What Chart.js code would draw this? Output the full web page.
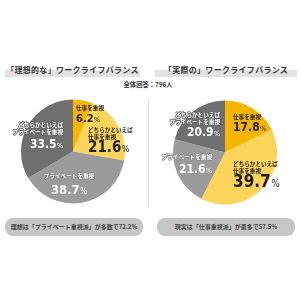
<!DOCTYPE html>
<html>
<head>
<meta charset="utf-8">
<script src="https://cdn.jsdelivr.net/npm/chart.js@4"></script>
<style>
  body { margin: 0; width: 300px; height: 300px; background: #fff; position: relative; overflow: hidden;
         font-family: "Noto Sans CJK JP", sans-serif; }
  .title { position: absolute; top: 63px; height: 14px; font-size: 8px; font-weight: 700; color: #333;
           text-align: center; line-height: 14px; letter-spacing: 0.3px; }
  .band { position: absolute; top: 70px; height: 7px; background: #e2e2e2; }
  .total { position: absolute; top: 80px; left: 0; width: 296px; text-align: center; font-size: 6.3px;
           font-weight: 700; color: #333; line-height: 10px; }
  .pill { position: absolute; top: 218px; height: 18px; width: 138px; background: #c6c6c6; border-radius: 8px;
          font-size: 6px; font-weight: 700; color: #444; text-align: center; line-height: 18px; }
  .sep { position: absolute; left: 148px; top: 100px; width: 1px; height: 107px; background: #dcdcdc; }
  canvas { position: absolute; top: 92px; }
</style>
</head>
<body>
<div class="band" style="left:5px;width:135px"></div>
<div class="band" style="left:155px;width:142px"></div>
<div class="title" style="left:5px;width:135px">「理想的な」ワークライフバランス</div>
<div class="title" style="left:155px;width:142px">「実際の」ワークライフバランス</div>
<div class="total">全体回答：796人</div>
<div class="sep"></div>
<canvas id="leftPie" width="150" height="120" style="left:0"></canvas>
<canvas id="rightPie" width="160" height="120" style="left:140px"></canvas>
<div class="pill" style="left:5px">理想は「プライベート重視派」が多数で72.2%</div>
<div class="pill" style="left:157px">現実は「仕事重視派」が最多で57.5%</div>

<script>
const categories = ["仕事を重視", "どちらかといえば\n仕事を重視", "プライベートを重視", "どちらかといえば\nプライベートを重視"];
const idealValues = [6.2, 21.6, 38.7, 33.5];
const actualValues = [17.8, 39.7, 21.6, 20.9];
const colors = ["#f8b500", "#fcd45a", "#9b9b9b", "#6f6f6f"];
const textColors = ["#1e1e1e", "#1e1e1e", "#ffffff", "#ffffff"];
const outlineColors = [null, null, "#8a8a8a", "#666666"];

// label placement relative to pie centre: dx, dy of the name's first line, value dy, align, value size
const leftLayout = [
    { dx: 3, dy: -43.5, vdy: -33, align: "left", size: 11 },
    { dx: 15, dy: -21.5, vdy: -5, align: "left", size: 15 },
    { dx: -4, dy: 24.5, vdy: 37.5, align: "center", size: 13 },
    { dx: -10, dy: -26.5, vdy: -7.5, align: "right", size: 12 }
];
const rightLayout = [
    { dx: 8, dy: -36, vdy: -26, align: "left", size: 12 },
    { dx: 8, dy: 11.5, vdy: 28, align: "left", size: 17 },
    { dx: -13, dy: 4.5, vdy: 16.5, align: "right", size: 12 },
    { dx: -5, dy: -37.5, vdy: -20.5, align: "right", size: 12 }
];

const labelPlugin = {
    id: "sliceLabels",
    afterDraw(chart) {
        const ctx = chart.ctx;
        const layout = chart.options.plugins.sliceLabels.layout;
        const meta = chart.getDatasetMeta(0);
        const values = chart.data.datasets[0].data;
        ctx.save();
        ctx.textBaseline = "middle";
        ctx.lineJoin = "round";
        meta.data.forEach((arc, i) => {
            const l = layout[i];
            const x = arc.x + l.dx;
            ctx.fillStyle = textColors[i];
            ctx.textAlign = l.align;
            ctx.font = "700 5.6px 'Noto Sans CJK JP'";
            categories[i].split("\n").forEach((line, j) => {
                const y = arc.y + l.dy + j * 6.5;
                if (outlineColors[i]) {
                    ctx.strokeStyle = outlineColors[i];
                    ctx.lineWidth = 1.6;
                    ctx.strokeText(line, x, y);
                }
                ctx.fillText(line, x, y);
            });
            // value with a smaller percent sign
            const num = values[i].toFixed(1);
            const numFont = "700 " + l.size + "px 'Liberation Sans Narrow', 'DejaVu Sans Condensed', sans-serif";
            const pctFont = "400 " + Math.round(l.size * 0.6) + "px 'Liberation Sans Narrow', 'DejaVu Sans Condensed', sans-serif";
            ctx.font = numFont;
            const nw = ctx.measureText(num).width;
            ctx.font = pctFont;
            const pw = ctx.measureText("%").width + 0.5;
            let start = x;
            if (l.align === "right") start = x - nw - pw;
            if (l.align === "center") start = x - (nw + pw) / 2;
            const vy = arc.y + l.vdy;
            ctx.textAlign = "left";
            ctx.textBaseline = "alphabetic";
            ctx.font = numFont;
            ctx.fillText(num, start, vy + l.size * 0.36);
            ctx.font = pctFont;
            ctx.fillText("%", start + nw + 0.5, vy + l.size * 0.36);
            ctx.textBaseline = "middle";
        });
        ctx.restore();
    }
};

function makePie(canvasId, values, layout, padding) {
    return new Chart(document.getElementById(canvasId), {
        type: "pie",
        data: {
            labels: categories,
            datasets: [{ data: values, backgroundColor: colors, borderWidth: 0 }]
        },
        options: {
            responsive: false,
            animation: false,
            layout: { padding: padding },
            plugins: {
                legend: { display: false },
                tooltip: { enabled: false },
                sliceLabels: { layout: layout }
            }
        },
        plugins: [labelPlugin]
    });
}

makePie("leftPie", idealValues, leftLayout, { left: 21, right: 25, top: 7.5, bottom: 8.5 });
makePie("rightPie", actualValues, rightLayout, { left: 33, right: 23, top: 8.5, bottom: 7.5 });
</script>
</body>
</html>
